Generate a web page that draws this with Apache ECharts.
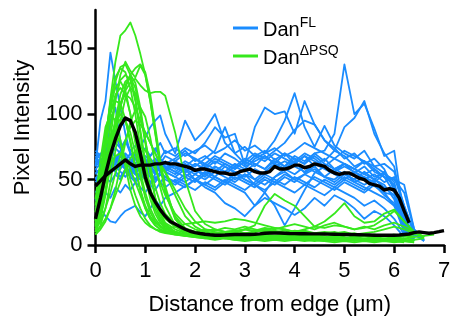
<!DOCTYPE html>
<html><head><meta charset="utf-8">
<script src="https://cdn.jsdelivr.net/npm/echarts@6/dist/echarts.min.js"></script>
<style>html,body{margin:0;padding:0;background:#fff}#c{width:455px;height:321px}</style>
</head><body><div id="c"></div><script>
// x positions (µm) of the individual traces
const traceX = [0,0.1,0.2,0.3,0.4,0.5,0.6,0.7,0.8,0.9,1.0,1.1,1.2,1.3,1.4,
  1.6,1.8,2.0,2.2,2.4,2.6,2.8,3.0,3.2,3.4,3.6,3.8,4.0,4.2,4.4,4.6,4.8,5.0,5.2,5.4,5.6,5.8,6.0,6.2,6.4,6.6,6.8,7.0];
// x positions (µm) of the mean traces
const meanX = [0,0.1,0.2,0.3,0.4,0.5,0.6,0.7,0.8,0.9,1.0,1.1,1.2,1.3,1.4,1.5,1.6,1.7,1.8,1.9,
  2.0,2.1,2.2,2.3,2.4,2.5,2.6,2.7,2.8,2.9,3.0,3.1,3.2,3.3,3.4,3.5,3.6,3.7,3.8,3.9,
  4.0,4.1,4.2,4.3,4.4,4.5,4.6,4.7,4.8,4.9,5.0,5.1,5.2,5.3,5.4,5.5,5.6,5.7,5.8,5.9,
  6.0,6.1,6.2,6.3,6.4,6.5,6.6,6.7,6.8,6.9,7.0];

// Dan FL traces (pixel intensity)
const flTraces = [
 [60,95,110,147,125,105,85,70,62,58,66,60,55,62,58, 60,55,62,58,52,60,55,58,50,56,62,58,64,55,60,52,50,56,48,52,45,40,38,12,4],
 [68,62,70,75,66,72,80,70,65,75,82,90,95,99,85, 70,95,80,88,100,78,70,75,68,72,65,70,62,68,60,66,58,62,55,60,52,55,45,15,5],
 [55,58,62,60,66,70,64,60,66,62,58,64,60,56,62, 58,64,60,66,72,90,70,62,90,105,100,102,85,110,92,80,72,68,60,64,58,52,40,12,4],
 [50,55,60,58,64,60,66,58,54,60,56,62,58,64,60, 56,62,58,52,60,56,62,58,66,70,80,95,116,90,75,91,76,70,66,72,60,55,48,18,6],
 [62,66,60,68,64,70,62,66,60,58,64,60,66,62,58, 64,60,56,62,58,54,60,56,62,58,66,60,68,64,70,72,85,138,100,108,89,68,72,20,6],
 [45,50,56,62,58,64,60,56,62,58,54,60,56,62,58, 54,60,66,60,56,62,58,64,60,68,62,70,66,62,70,64,72,90,97,110,85,70,60,22,7],
 [35,28,22,18,17,22,26,28,30,25,22,28,34,30,36, 40,45,50,46,52,48,55,50,46,52,48,54,50,46,52,48,44,50,46,42,48,40,30,10,3],
 [58,62,56,60,66,62,58,64,60,56,62,58,54,60,56, 52,58,50,44,40,32,28,22,30,40,52,58,54,60,56,52,58,54,50,56,50,46,35,10,3],
 [66,60,64,58,62,68,64,60,56,62,58,64,60,56,60, 56,52,58,54,60,56,50,54,46,40,30,15,28,42,55,60,56,62,58,54,50,56,44,14,4],
 [52,48,54,60,56,52,58,62,56,52,58,54,50,56,52, 48,54,50,56,52,48,44,40,30,36,32,28,23,28,36,30,38,34,28,20,26,22,15,6],
 [72,68,75,70,78,74,80,72,76,70,74,68,72,78,70, 74,68,72,76,70,74,80,72,76,70,74,68,72,78,74,70,66,72,68,64,60,62,56,30,10,3],
 [48,52,58,54,60,56,52,58,54,50,56,52,48,54,50, 46,52,48,54,50,46,52,48,44,50,46,52,48,54,50,46,42,48,44,40,46,38,32,12,4],
 [64,70,66,72,68,64,70,66,62,68,64,60,66,62,68, 64,70,66,62,68,64,60,66,62,58,64,60,66,62,68,62,58,62,58,54,58,52,50,46,12,4],
 [40,46,52,48,54,50,56,52,48,54,50,46,52,48,44, 50,46,42,48,44,50,46,42,48,54,50,46,52,48,44,50,46,52,48,44,40,36,30,20,8,3],
 [58,54,60,66,62,58,64,70,66,62,68,64,60,66,72, 68,74,70,78,90,82,85,61,68,64,70,66,62,68,64,60,66,62,58,64,56,52,46,16,5],
 [70,66,62,68,74,70,66,62,58,64,60,66,62,58,64, 60,56,62,58,64,60,56,52,58,54,60,64,60,56,62,58,54,50,56,52,48,54,50,40,12,4],
 [54,58,64,60,56,62,58,54,60,56,52,58,64,60,56, 62,58,54,60,66,62,58,64,70,66,72,78,88,95,92,80,74,66,70,62,66,58,42,14,4],
 [28,34,40,36,44,40,46,42,48,44,40,46,42,48,52, 48,44,50,46,42,48,54,50,46,42,48,44,40,46,42,38,44,40,36,30,34,28,20,8],
 [60,64,70,78,85,74,68,62,70,64,60,68,74,66,62, 66,72,64,68,62,70,66,60,64,68,62,58,64,70,66,60,56,60,56,50,54,48,52,30,8],
 [50,56,62,95,105,80,60,54,50,56,52,48,54,60,56, 52,48,54,50,56,52,48,54,50,46,52,56,50,54,58,52,48,54,50,46,50,44,38,10,3]
];

// Dan ΔPSQ traces (pixel intensity)
const psqTraces = [
 [15,40,78,112,140,160,164,170,160,146,130,110,85,60,40, 20,12,9,7,8,6,7,6,8,7,6,8,7,6,7,5,6],
 [10,26,52,82,110,130,140,133,128,137,130,110,86,62,42, 22,13,10,8,9,7,8,9,7,8,10,8,9,7,8,9,7,8,6,7,6],
 [22,34,52,72,92,108,118,124,127,122,118,116,117,117,114, 86,50,26,16,12,10,11,9,10,12,10,9,11,10,8,9,10,8,9,7,8,7,8],
 [12,22,40,62,85,105,120,130,135,138,132,115,90,65,45, 20,11,8,6,5,6,5,4,5,4,5,4,5,4,3,4,3,4,3,4,3,4,3,3,2],
 [18,45,80,110,128,135,132,120,100,75,52,35,24,17,13, 9,7,6,5,6,5,4,5,4,5,4,5,4,5,4,3,4,3,4,3,4,3,3,2],
 [10,20,38,60,85,105,122,130,124,105,80,56,36,24,17, 12,9,8,7,8,7,9,8,10,12,10,11,9,10,8,9,7,8,7,8,6,7,6,7,8,9],
 [20,48,82,108,120,125,118,100,78,56,40,28,20,15,12, 10,8,9,7,8,7,6,7,8,6,7,8,6,7,6,5],
 [8,15,28,48,72,95,112,120,116,100,78,55,36,24,16, 10,8,7,6,7,6,5,6,5,6,5,6,5,4,5,4,5,4,5,4,3,4,3,4,3],
 [25,55,85,102,110,108,96,78,58,42,30,22,17,14,12, 14,16,17,18,17,18,20,19,17,15,13,12,10,11,9,10,9,10,8,9,10,12,14,12,9,6],
 [15,30,55,78,95,100,95,80,60,42,28,20,15,12,10, 9,8,9,10,9,8,9,12,15,30,39,34,30,22,14,18,24,32,22,17,18,24,27,18,10,6],
 [12,18,28,40,55,68,80,90,95,92,86,78,70,62,56, 42,28,18,12,10,9,10,12,11,13,12,14,16,14,12,15,17,14,12,14,12,15,17,14,10,6],
 [30,55,75,84,85,78,65,50,38,28,20,15,12,10,9, 8,7,6,7,6,5,6,5,6,5,4,5,4,5,4,5,4,3,4,3,4,3],
 [14,32,60,90,112,126,130,126,110,85,60,40,27,19,14, 10,8,6,5,4,5,4,3,4,3,4,3,4,3,4,3,2,3,2,3,2,3,2,3,2],
 [10,14,20,28,38,48,58,66,72,75,72,66,58,48,38, 24,16,12,10,9,8,7,8,7,8,9,8,7,8,7,8,9,8,7,8,7],
 [35,65,90,100,95,80,60,42,30,22,17,14,12,11,10, 9,8,7,8,7,8,9,8,7,8,7,6,7,6,7],
 [10,22,42,68,95,115,125,128,120,102,80,60,44,32,24, 16,12,10,11,12,10,11,12,10,11,13,12,10,12,14,13,15,14,12,13,15,20,26,18,10,5],
 [14,30,52,75,95,108,115,112,105,95,86,78,70,62,55, 38,22,14,10,9,8,7,8,7,6,7,6,7,6,5,6,5,6,5],
 [20,35,50,62,68,70,66,58,48,38,28,20,15,12,10, 8,7,8,7,6,7,6,7,6,5,6,5,6,5,6,5,6,5,6,5,6,5,6,5,6,7,8],
 [16,40,72,102,125,136,138,130,112,88,64,44,30,21,15, 10,8,7,6,7,6,5,6,5,6,5,6,5,4,5,4,5,4,5,4,5,4,5,4],
 [8,12,18,28,42,60,78,94,103,105,98,82,62,44,30, 15,9,7,6,5,6,5,6,5,6,5,6,7,6,7,6,7,6],
 [25,45,66,82,92,96,95,86,70,52,36,25,18,14,11, 9,8,10,12,11,13,12,14,12,10,11,9,10,9,8,9,8,9,8,7,8,7,8,7,6],
 [18,42,75,100,115,120,115,100,80,62,48,38,30,25,20, 14,10,8,7,6,7,6,5,6,5,6,5,6,5,4,5,4,5,4,5,4,5,4,5,4,5]
];

// mean traces
const flMean = [45,49,53,56,59,62,65,62,60,61, 61,61,62,62,63,62,62,61,60,59,
  57,58,58,57,56,55,55,54,54,56, 57,58,56,55,55,56,60,58,58,59,
  61,61,59,60,62,61,60,57,55,54, 55,55,53,51,50,47,46,45,42,43, 42,36,26,17];
const psqMean = [20,36,54,69,81,91,97,95,86,70, 52,40,33,27,22,18,16,14,12,10.5,
  9.5,8.8,8.2,7.8,7.5,7.5,7.6,7.8,8,8, 8,8,8.2,8.5,9,9.2,9.3,9.2,9,8.8,
  8.7,8.6,8.6,8.5,8.5,8.5,8.4,8.3,8.2,8.1, 8,8,7.9,7.8,7.7,7.6,7.5,7.5,7.5,7.5,
  7.5,7.6,8,8.4,9.5,10,9.5,9,9.5,10.2, 11];

const yTicks = [0,50,100,150];
const seriesNames = ['DanFL','DanΔPSQ'];

const BLUE = '#1a8cff', GREEN = '#36e81c';
const FONT = 'Liberation Sans, Arial, Helvetica, sans-serif';
const toPairs = (xs, ys) => ys.map((y, i) => [xs[i], y]);

const series = [];
flTraces.forEach(t => series.push({
  type:'line', name: seriesNames[0], data: toPairs(traceX, t), showSymbol:false, symbol:'none',
  color: BLUE, lineStyle:{color:BLUE, width:1.8, join:'round'}, silent:true, z:2
}));
psqTraces.forEach(t => series.push({
  type:'line', name: seriesNames[1], data: toPairs(traceX, t), showSymbol:false, symbol:'none',
  color: GREEN, lineStyle:{color:GREEN, width:1.8, join:'round'}, silent:true, z:3
}));
series.push({type:'line', name:'meanFL', data: toPairs(meanX, flMean), showSymbol:false, symbol:'none',
  lineStyle:{color:'#000', width:3.4, join:'round'}, color:'#000', silent:true, z:5});
series.push({type:'line', name:'meanPSQ', data: toPairs(meanX, psqMean), showSymbol:false, symbol:'none',
  lineStyle:{color:'#000', width:3.4, join:'round'}, color:'#000', silent:true, z:5});

const chart = echarts.init(document.getElementById('c'), null, {renderer:'canvas'});
chart.setOption({
  animation:false,
  backgroundColor:'#fff',
  grid:{left:95.5, right:11, top:10, bottom:70.3, containLabel:false},
  legend:{
    data: seriesNames, orient:'vertical', left:228, top:11, itemGap:4,
    icon:'rect', itemWidth:25, itemHeight:3,
    formatter: n => n === 'DanFL' ? '{a|Dan}{b|FL}' : '{a|Dan}{b|ΔPSQ}',
    textStyle:{ fontFamily:FONT, color:'#000',
      rich:{ a:{fontSize:20, fontFamily:FONT, color:'#000', verticalAlign:'bottom', lineHeight:24},
             b:{fontSize:14, fontFamily:FONT, color:'#000', verticalAlign:'top', lineHeight:14} } },
    selectedMode:false
  },
  xAxis:{
    type:'value', min:0, max:7, interval:1,
    name:'Distance from edge (μm)', nameLocation:'middle', nameGap:49,
    nameTextStyle:{fontSize:22, fontFamily:FONT, color:'#000'},
    axisLine:{show:true, lineStyle:{color:'#000', width:2.5}},
    axisTick:{show:true, length:8, lineStyle:{color:'#000', width:2.5}},
    axisLabel:{fontSize:22, fontFamily:FONT, color:'#000', margin:15},
    splitLine:{show:false}
  },
  yAxis:{
    type:'value', min:0, max:179.5, interval:50,
    name:'Pixel Intensity', nameLocation:'middle', nameGap:62,
    nameTextStyle:{fontSize:22, fontFamily:FONT, color:'#000'},
    axisLine:{show:true, lineStyle:{color:'#000', width:2.5}},
    axisTick:{show:true, length:8, lineStyle:{color:'#000', width:2.5}, customValues: yTicks},
    axisLabel:{fontSize:22, fontFamily:FONT, color:'#000', margin:13, customValues: yTicks},
    splitLine:{show:false}
  },
  series
});
</script></body></html>
